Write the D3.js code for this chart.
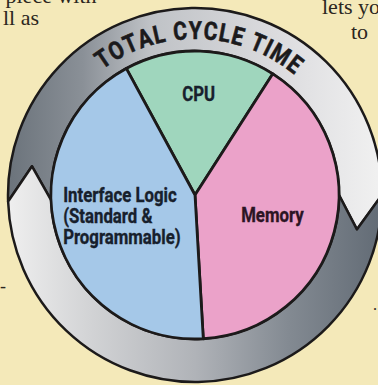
<!DOCTYPE html>
<html>
<head>
<meta charset="utf-8">
<script src="https://cdn.jsdelivr.net/npm/d3@7"></script>
<style>
  html, body { margin: 0; padding: 0; background: #f4e9b9; overflow: hidden; }
  svg { display: block; }
  .label { font-family: "Liberation Sans Narrow", "Roboto", "Liberation Sans", sans-serif; font-weight: bold; }
  .copy { font-family: "Liberation Serif", "DejaVu Serif", serif; fill: #2b2620; }
</style>
</head>
<body>
<div class="cycle-chart"></div>
<script>
// slices of the cycle, clockwise from the top
var categories = ["CPU", "Memory", "Interface Logic"];
var labelLines = [["CPU"], ["Memory"], ["Interface Logic", "(Standard &", "Programmable)"]];
var shares = [17, 40, 43];
var ringTitle = "TOTAL CYCLE TIME";
// bits of the magazine column text round the picture
var copyLeft = ["up piece with", "ll as"];
var copyRight = ["lets you", "to"];

function cycleChart() {

    var width = 378,
        height = 385;

    var cx = 195, cy = 195;
    var rPie = 144, rOuter = 187;
    var rMid = (rPie + rOuter) / 2;
    var deg = Math.PI / 180;
    var squeeze = 0.84; // condensed look for the bold labels

    var svg = d3.select('.cycle-chart')
        .append('svg')
        .attr("width", width)
        .attr("height", height);

    svg.append("rect")
        .attr("width", width)
        .attr("height", height)
        .attr("fill", "#f4e9b9");

    // column text cut off at the edges
    svg.selectAll("text.copy-l")
        .data(copyLeft)
        .enter().append("text")
        .attr("class", "copy copy-l")
        .attr("x", function(d, i) { return i === 0 ? -22 : 3; })
        .attr("y", function(d, i) { return i === 0 ? 3 : 25; })
        .attr("font-size", 22)
        .text(function(d) { return d; });

    svg.selectAll("text.copy-r")
        .data(copyRight)
        .enter().append("text")
        .attr("class", "copy copy-r")
        .attr("x", function(d, i) { return i === 0 ? 322 : 351; })
        .attr("y", function(d, i) { return 14 + i * 25; })
        .attr("font-size", 22)
        .text(function(d) { return d; });

    svg.append("text").attr("class", "copy").attr("x", 0).attr("y", 292).attr("font-size", 18).text("-");
    svg.append("text").attr("class", "copy").attr("x", 373).attr("y", 310).attr("font-size", 16).text(".");

    var g = svg.append("g")
        .attr("transform", "translate(" + cx + "," + cy + ")");

    var defs = svg.append("defs");

    var grad1 = defs.append("linearGradient")
        .attr("id", "arrow-top")
        .attr("gradientUnits", "userSpaceOnUse")
        .attr("x1", -rOuter).attr("y1", 0)
        .attr("x2", rOuter).attr("y2", 0);
    [[0, "#6b737b"], [0.2, "#8a9097"], [0.38, "#bfc2c6"], [0.7, "#dadadd"], [1, "#f1f1f1"]].forEach(function(s) {
        grad1.append("stop").attr("offset", s[0]).attr("stop-color", s[1]);
    });

    var grad2 = defs.append("linearGradient")
        .attr("id", "arrow-bottom")
        .attr("gradientUnits", "userSpaceOnUse")
        .attr("x1", rOuter).attr("y1", 0)
        .attr("x2", -rOuter).attr("y2", 0);
    [[0, "#626b75"], [0.25, "#838a92"], [0.5, "#b0b3b8"], [0.78, "#d2d3d5"], [1, "#efefef"]].forEach(function(s) {
        grad2.append("stop").attr("offset", s[0]).attr("stop-color", s[1]);
    });

    function pt(r, a) { return [r * Math.sin(a), -r * Math.cos(a)]; }

    // ring segment with a notched tail and a pointed head
    function arrowPath(a0, a1, head) {
        var p = d3.path();
        var s = pt(rOuter, a0);
        p.moveTo(s[0], s[1]);
        p.arc(0, 0, rOuter, a0 - Math.PI / 2, a1 - Math.PI / 2, false);
        var tip = pt(rMid, a1 + head);
        p.lineTo(tip[0], tip[1]);
        var b = pt(rPie, a1);
        p.lineTo(b[0], b[1]);
        p.arc(0, 0, rPie, a1 - Math.PI / 2, a0 - Math.PI / 2, true);
        var notch = pt(rMid, a0 + head);
        p.lineTo(notch[0], notch[1]);
        p.closePath();
        return p.toString();
    }

    var arrows = [
        { a0: -92 * deg, a1: 90 * deg, fill: "url(#arrow-top)" },
        { a0: 90 * deg, a1: 268 * deg, fill: "url(#arrow-bottom)" }
    ];

    g.selectAll("path.arrow")
        .data(arrows)
        .enter().append("path")
        .attr("class", "arrow")
        .attr("d", function(d) { return arrowPath(d.a0, d.a1, 12 * deg); })
        .attr("fill", function(d) { return d.fill; })
        .attr("stroke", "#1c1a1a")
        .attr("stroke-width", 2.5)
        .attr("stroke-linejoin", "round");

    // title round the top of the ring, one letter at a time
    var titleR = 156, titleSize = 25, titleSpan = 76 * deg, titleMid = 1.5 * deg;
    var measure = svg.append("text").attr("class", "label").attr("font-size", titleSize);
    var chars = ringTitle.split("");
    var widths = chars.map(function(ch) {
        measure.text(ch === " " ? "\u00a0" : ch);
        return measure.node().getComputedTextLength() * squeeze;
    });
    measure.remove();
    var inkWidth = d3.sum(widths);
    var gap = (titleSpan * titleR - inkWidth) / (chars.length - 1);
    var pos = titleMid - titleSpan / 2;
    var titleG = g.append("g").attr("class", "ring-title");
    chars.forEach(function(ch, i) {
        var a = pos + (widths[i] / 2) / titleR;
        pos += (widths[i] + gap) / titleR;
        if (ch === " ") return;
        titleG.append("text")
            .attr("class", "label")
            .attr("font-size", titleSize)
            .attr("fill", "#1b1a1c")
            .attr("stroke", "#1b1a1c")
            .attr("stroke-width", 0.6)
            .attr("text-anchor", "middle")
            .attr("transform", "rotate(" + (a / deg) + ") translate(0," + (-titleR) + ") scale(" + squeeze + ",1)")
            .text(ch);
    });

    var color = d3.scaleOrdinal()
        .domain(categories)
        .range(["#9fd6bd", "#eba2c9", "#a5c8e8"]);

    var pie = d3.pie()
        .sort(null)
        .startAngle(-28.5 * deg)
        .endAngle(-28.5 * deg + 2 * Math.PI)
        .value(function(d) { return d; });

    var arc = d3.arc().innerRadius(0).outerRadius(rPie);

    var slices = pie(shares);

    g.selectAll("path.slice")
        .data(slices)
        .enter().append("path")
        .attr("class", "slice")
        .attr("d", arc)
        .attr("fill", function(d, i) { return color(categories[i]); })
        .attr("stroke", "#1c1a1a")
        .attr("stroke-width", 2.8)
        .attr("stroke-linejoin", "round");

    var labelRadius = [101, 80, 76];
    var lineHeight = 21;

    slices.forEach(function(d, i) {
        var mid = (d.startAngle + d.endAngle) / 2;
        var c = pt(labelRadius[i], mid);
        var lines = labelLines[i];
        var ink = i === 1 ? "#2c1424" : "#17202c";
        var t = g.append("text")
            .attr("class", "label")
            .attr("font-size", 20)
            .attr("fill", ink)
            .attr("stroke", ink)
            .attr("stroke-width", 0.35)
            .attr("transform", "translate(" + c[0] + "," + c[1] + ") scale(" + squeeze + ",1)");
        lines.forEach(function(line, j) {
            t.append("tspan")
                .attr("y", 7 + (j - (lines.length - 1) / 2) * lineHeight)
                .text(line);
        });
        if (lines.length > 1) {
            var w = d3.max(t.selectAll("tspan").nodes(), function(n) { return n.getComputedTextLength(); });
            t.selectAll("tspan").attr("x", -w / 2);
        } else {
            t.attr("text-anchor", "middle");
            t.selectAll("tspan").attr("x", 0);
        }
    });
}

cycleChart();
</script>
</body>
</html>
